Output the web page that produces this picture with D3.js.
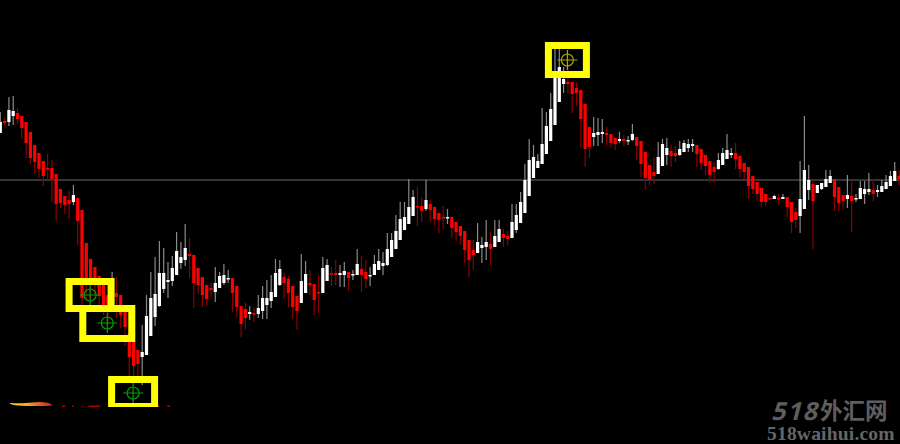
<!DOCTYPE html>
<html><head><meta charset="utf-8">
<style>html,body{margin:0;padding:0;background:#000;overflow:hidden}</style>
<script src="https://cdn.jsdelivr.net/npm/d3@7"></script>
</head><body><div id="chart"></div>
<script>
const opens=[311,323,322,328,331,328,322,312,299,291,283,276,276,270,255,248,244,242,246,234,201,185,177,168,159,149,157,151,149,132,111,102,94,87,89,108,127,138,155,162,163,169,181,184,190,189,176,167,159,156,152,156,161,165,166,158,138,135,130,131,130,133,139,143,147,159,167,165,158,148,141,151,161,160,152,151,163,171,171,169,169,172,169,169,175,172,168,169,174,178,179,187,195,204,214,220,228,238,238,235,240,237,231,227,226,227,222,218,213,204,194,191,196,197,200,197,202,210,208,206,214,221,231,248,266,276,280,290,303,319,342,360,362,362,356,354,340,317,307,309,310,311,310,306,303,305,303,304,307,303,292,279,272,270,278,289,293,291,289,292,296,298,299,295,289,283,277,275,279,285,289,291,288,281,277,268,262,256,250,246,245,246,245,247,242,232,228,235,254,260,251,255,257,261,265,257,249,245,248,245,245,250,252,254,252,252,255,258,263,268];
const closes=[322,321,334,333,325,316,301,286,282,275,268,275,265,240,241,239,240,249,223,146,166,159,159,148,139,134,159,147,129,117,87,78,80,92,128,146,150,171,171,164,176,193,187,196,188,161,159,149,145,154,161,168,169,166,151,137,120,126,132,130,136,146,146,152,171,175,161,151,137,133,163,170,159,144,151,176,179,170,169,171,173,166,170,180,169,165,169,180,183,181,195,204,213,225,227,237,247,237,233,244,234,225,224,226,227,216,212,208,194,184,189,202,199,202,195,208,215,206,205,222,229,242,264,284,287,283,300,318,335,371,377,365,360,350,351,325,295,297,311,312,312,309,301,300,305,303,304,310,298,280,266,264,268,287,300,296,288,288,295,301,300,300,290,281,278,269,272,284,291,294,291,285,275,272,258,255,250,242,242,245,248,245,247,237,222,224,245,274,264,243,259,261,265,268,247,241,243,249,243,246,256,255,255,250,254,258,262,268,273,265];
const highs=[332,327,347,348,336,328,322,312,299,291,283,290,284,270,255,248,253,259,247,234,201,185,177,168,159,149,172,167,149,132,114,102,94,119,149,172,187,203,196,182,188,212,202,220,206,189,176,167,159,161,177,172,180,174,166,158,138,141,138,137,149,158,164,169,185,184,171,168,158,148,190,183,174,160,169,187,185,177,184,179,182,172,174,195,188,184,177,189,195,192,211,211,229,242,242,265,254,257,247,264,244,237,231,238,235,227,222,218,213,204,204,221,207,224,212,224,224,215,213,240,240,252,280,305,299,290,336,332,351,396,396,377,377,362,362,354,340,317,327,326,325,317,310,306,312,309,308,320,307,303,292,279,287,302,305,306,299,298,303,304,305,305,299,295,289,283,282,291,296,310,296,301,288,281,277,268,262,256,250,246,249,250,250,247,242,236,283,328,279,265,259,261,274,274,265,257,249,269,265,250,263,263,271,265,259,264,269,273,282,274];
const lows=[311,319,318,319,320,305,286,280,270,266,258,264,242,223,236,230,225,239,199,132,144,144,149,139,129,119,154,126,116,98,68,67,67,59,89,108,118,137,151,146,158,169,175,178,166,136,150,137,138,147,142,156,159,161,132,127,107,115,124,122,126,125,125,136,147,158,145,137,125,114,141,151,149,129,131,151,163,158,159,157,157,153,164,169,152,156,158,169,174,169,178,187,195,204,214,220,228,218,222,233,222,219,211,215,220,206,203,199,181,167,174,191,181,184,179,197,202,197,199,206,211,221,231,248,266,276,280,290,303,319,342,351,351,331,338,296,277,286,298,298,301,299,296,294,301,298,299,303,284,267,255,259,260,270,278,279,277,282,288,292,292,292,277,274,269,261,261,274,279,285,286,275,267,265,245,250,243,237,238,245,245,239,245,227,211,216,211,235,244,195,251,254,257,261,233,233,235,236,212,242,245,240,249,243,247,252,255,258,263,259];

// Signal markers: bar index and price level
const signalBars=[21,25,31,132];
const signalPrices=[149,121,51,384];
const signalColors=["#00a000","#00a000","#00a000","#a8a800"];

// Level line
const levelPrice=264;

// Bottom indicator smear: bar position and thickness (price units)
const smearBars=[2.3,4,6,9,11,12];
const smearTops=[41,40.8,41,42,41.2,39.5];
const smearBottoms=[40,38.4,38,38,38,38.5];
const stripFrom=[14.4,16.7,19,20.5,33.6,36,38.8];
const stripTo=[15.1,17.1,19.2,23.2,34.3,37,39.5];

const W=900,H=444,plotBottom=407;
const svg=d3.select("#chart").append("svg").attr("width",W).attr("height",H).style("display","block");
svg.append("rect").attr("width",W).attr("height",H).attr("fill","#000");
const x=d3.scaleLinear().domain([0,209]).range([0.3,899]);
const y=d3.scaleLinear().domain([0,444]).range([444,0]);

const defs=svg.append("defs");
defs.append("clipPath").attr("id","plot").append("rect").attr("width",W).attr("height",plotBottom);
const grad=defs.append("linearGradient").attr("id","smear").attr("x1","0").attr("x2","1").attr("y1","0").attr("y2","0");
[["0%","#ffd020"],["40%","#f8b010"],["70%","#e06020"],["100%","#d02020"]].forEach(s=>grad.append("stop").attr("offset",s[0]).attr("stop-color",s[1]));

const g=svg.append("g").attr("clip-path","url(#plot)");
const idx=d3.range(opens.length);
const up=i=>closes[i]>=opens[i];

g.append("line").attr("x1",0).attr("x2",W).attr("y1",y(levelPrice)).attr("y2",y(levelPrice))
 .attr("stroke","#44484c").attr("stroke-width",1.5);

// indicator
g.append("path").attr("fill","url(#smear)")
 .attr("d",d3.area().x(d=>x(smearBars[d])).y0(d=>y(smearBottoms[d])).y1(d=>y(smearTops[d])).curve(d3.curveMonotoneX)(d3.range(smearBars.length)));
g.selectAll(".strip").data(stripFrom).join("rect").attr("class","strip")
 .attr("x",d=>x(d)).attr("width",(d,i)=>x(stripTo[i])-x(d)).attr("y",y(38.5)).attr("height",2).attr("fill","#b00000");

// wicks
g.selectAll(".wick").data(idx).join("line").attr("class","wick")
 .attr("x1",i=>x(i)).attr("x2",i=>x(i)).attr("y1",i=>y(highs[i])).attr("y2",i=>y(lows[i]))
 .attr("stroke",i=>up(i)?"#8a8a8a":"#8a0000").attr("stroke-width",1.2);
// bodies
g.selectAll(".body").data(idx).join("rect").attr("class","body")
 .attr("x",i=>x(i)-1.6).attr("width",3.2)
 .attr("y",i=>y(Math.max(opens[i],closes[i])))
 .attr("height",i=>Math.max(1.5,Math.abs(y(opens[i])-y(closes[i]))))
 .attr("fill",i=>up(i)?"#fff":"#f00");

// markers
const halfW=[21,24.5,21.5,19], halfHUp=[13.5,14.5,13.5,14.5], halfHDown=[13.5,15.5,13.5,14.5];
const mk=g.selectAll(".mark").data(signalBars).join("g").attr("class","mark")
 .attr("transform",(d,i)=>`translate(${x(d)-0.5},${y(signalPrices[i])})`);
mk.append("rect").attr("x",(d,i)=>-halfW[i]).attr("y",(d,i)=>-halfHUp[i])
 .attr("width",(d,i)=>2*halfW[i]).attr("height",(d,i)=>halfHUp[i]+halfHDown[i])
 .attr("fill","none").attr("stroke","#ff0").attr("stroke-width",7);
mk.append("circle").attr("r",6).attr("fill","none").attr("stroke",(d,i)=>signalColors[i]).attr("stroke-width",1.2);
mk.append("path").attr("d","M-10,0H10M0,-10V10").attr("fill","none").attr("stroke",(d,i)=>signalColors[i]).attr("stroke-width",1.2);

// watermark
const wm=svg.append("g").attr("fill","#5e5e5e");
wm.append("text").attr("transform","translate(771,420) skewX(-14)")
 .attr("font-family","'Noto Sans',sans-serif").attr("font-size",25).attr("font-weight",700).attr("letter-spacing",1.5).text("518");
wm.append("text").attr("x",820).attr("y",419).attr("font-family","'Noto Sans CJK SC'").attr("font-size",22.5).attr("font-weight",700).text("外汇网");
wm.append("text").attr("x",767).attr("y",440).attr("font-family","'Liberation Serif',serif").attr("font-weight",700).attr("font-size",19.5).attr("letter-spacing",0.2).attr("fill","#666").text("518waihui.com");
</script></body></html>
